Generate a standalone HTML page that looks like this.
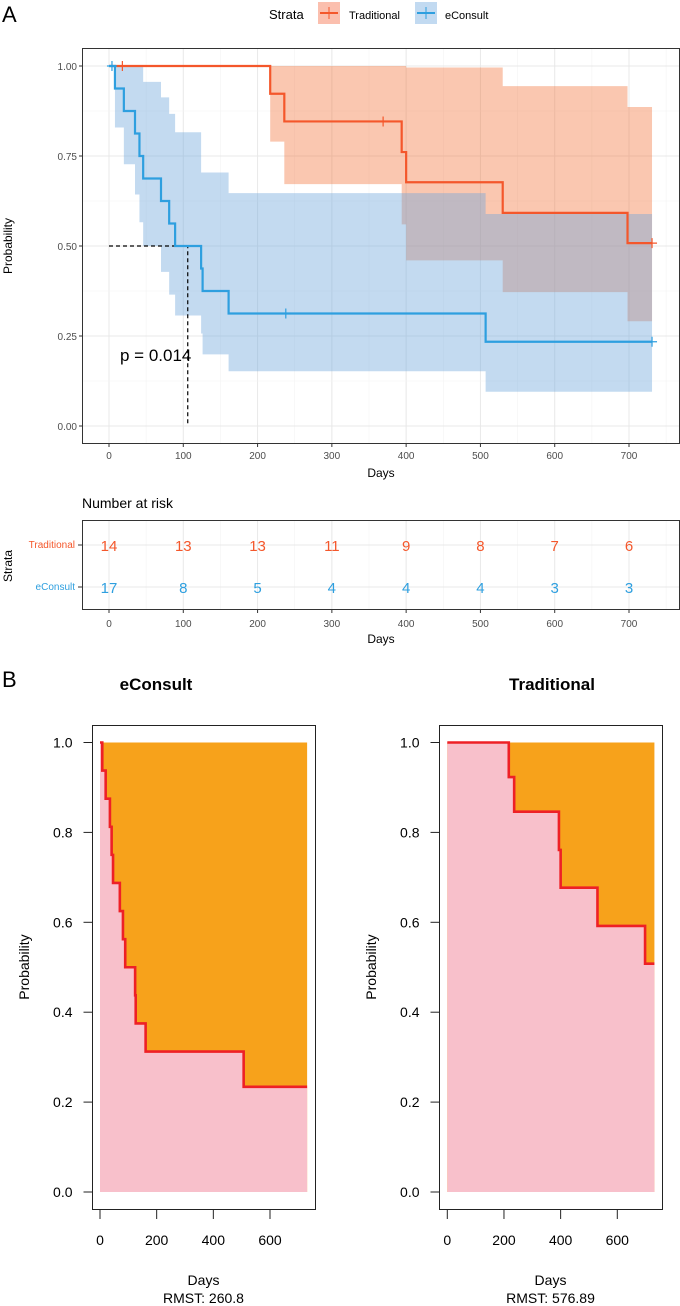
<!DOCTYPE html>
<html><head><meta charset="utf-8"><style>
body{margin:0;background:#fff;}
svg{display:block;font-family:"Liberation Sans",sans-serif;}
</style></head><body>
<svg id="chart" width="680" height="1306" viewBox="0 0 680 1306"></svg>
<script>
// ---- Data ----
const econTimes = [0, 8, 20, 35, 41, 46, 70, 81, 89, 124, 126, 161, 507];
const econSurv  = [1, 0.9375, 0.875, 0.8125, 0.75, 0.6875, 0.625, 0.5625, 0.5, 0.4375, 0.375, 0.3125, 0.234];
const econUpper = [1, 1, 1, 1, 1, 0.956, 0.913, 0.867, 0.816, 0.704, 0.704, 0.647, 0.589];
const econLower = [1, 0.829, 0.727, 0.643, 0.566, 0.5, 0.428, 0.365, 0.307, 0.257, 0.199, 0.152, 0.095];
const econCensor = [4, 238, 731];
const tradTimes = [0, 217, 236, 394, 400, 530, 698];
const tradSurv  = [1, 0.923, 0.846, 0.761, 0.677, 0.592, 0.508];
const tradUpper = [1, 1, 1, 1, 0.996, 0.944, 0.886];
const tradLower = [1, 0.79, 0.672, 0.56, 0.46, 0.372, 0.291];
const tradCensor = [18, 369, 731];
const maxDay = 731;
const medianDay = 106;
const riskTimes = [0, 100, 200, 300, 400, 500, 600, 700];
const riskTrad = [14, 13, 13, 11, 9, 8, 7, 6];
const riskEcon = [17, 8, 5, 4, 4, 4, 3, 3];
const yTicksA = [0, 0.25, 0.5, 0.75, 1];
const yTickLabelsA = ["0.00", "0.25", "0.50", "0.75", "1.00"];
const xTicksA = [0, 100, 200, 300, 400, 500, 600, 700];
const xTicksB = [0, 200, 400, 600];
const yTicksB = [0, 0.2, 0.4, 0.6, 0.8, 1.0];
const rmstEcon = "260.8";
const rmstTrad = "576.89";

const svg = document.getElementById('chart');
const NS = 'http://www.w3.org/2000/svg';
function mk(tag, attrs, parent, text) {
  const e = document.createElementNS(NS, tag);
  for (const k in attrs) e.setAttribute(k, attrs[k]);
  if (text !== undefined) e.textContent = text;
  (parent || svg).appendChild(e);
  return e;
}
const ORANGE = '#F4572B', BLUE = '#2E9FDF';

// ---- Panel A scales ----
const ax = d => 109 + d * 520 / 700;
const ay = p => 426 - p * 360;

let e;
e = mk('text', {x: 2, y: 22, 'font-size': 22}, svg, 'A');
 

// legend
const lg = mk('g', {});
 
mk('text', {x: 269, y: 19, 'font-size': 13}, lg, 'Strata');
e = mk('g', {}, lg);
 
mk('rect', {x: 318, y: 2, width: 22, height: 22, fill: ORANGE, 'fill-opacity': 0.38}, e);
mk('line', {x1: 320, y1: 13, x2: 338, y2: 13, stroke: ORANGE, 'stroke-width': 2}, e);
mk('line', {x1: 329, y1: 7, x2: 329, y2: 19, stroke: ORANGE, 'stroke-width': 1}, e);
mk('text', {x: 349, y: 19, 'font-size': 11}, e, 'Traditional');
e = mk('g', {}, lg);
 
mk('rect', {x: 415, y: 2, width: 22, height: 22, fill: '#78ADE0', 'fill-opacity': 0.45}, e);
mk('line', {x1: 417, y1: 13, x2: 435, y2: 13, stroke: BLUE, 'stroke-width': 2}, e);
mk('line', {x1: 426, y1: 7, x2: 426, y2: 19, stroke: BLUE, 'stroke-width': 1}, e);
mk('text', {x: 445, y: 19, 'font-size': 11}, e, 'eConsult');

// grid
const gA = mk('g', {});
 
for (let d = -50; d <= 750; d += 50) {
  const x = ax(d); if (x < 83 || x > 679) continue;
  mk('line', {x1: x, y1: 49, x2: x, y2: 443, stroke: d % 100 === 0 ? '#E8E8E8' : '#F3F3F3', 'stroke-width': d % 100 === 0 ? 1 : 0.6}, gA);
}
for (let p = -0.125; p <= 1.126; p += 0.125) {
  const y = ay(p); if (y < 49 || y > 443) continue;
  const major = Math.abs(p * 4 - Math.round(p * 4)) < 1e-6;
  mk('line', {x1: 83, y1: y, x2: 679, y2: y, stroke: major ? '#E8E8E8' : '#F3F3F3', 'stroke-width': major ? 1 : 0.6}, gA);
}

function bandPath(times, up, lo) {
  let top = '', bot = [];
  for (let i = 0; i < times.length; i++) {
    const t0 = times[i], t1 = i + 1 < times.length ? times[i + 1] : maxDay;
    top += (i === 0 ? 'M' : 'L') + ax(t0) + ',' + ay(up[i]) + ' L' + ax(t1) + ',' + ay(up[i]) + ' ';
    bot.push(ax(t0) + ',' + ay(lo[i]), ax(t1) + ',' + ay(lo[i]));
  }
  return top + 'L' + bot.reverse().join(' L') + ' Z';
}
function stepPath(times, s, sx, sy) {
  let d = 'M' + sx(times[0]) + ',' + sy(s[0]);
  for (let i = 1; i < times.length; i++) d += ' L' + sx(times[i]) + ',' + sy(s[i - 1]) + ' L' + sx(times[i]) + ',' + sy(s[i]);
  d += ' L' + sx(maxDay) + ',' + sy(s[s.length - 1]);
  return d;
}
function survAt(times, s, t) { let v = s[0]; for (let i = 0; i < times.length; i++) if (times[i] <= t) v = s[i]; return v; }

e = mk('path', {d: bandPath(tradTimes, tradUpper, tradLower), fill: '#F26B30', 'fill-opacity': 0.38});
 
e = mk('path', {d: bandPath(econTimes, econUpper, econLower), fill: '#6FA6DC', 'fill-opacity': 0.42});
 

// median lines
e = mk('path', {d: 'M' + ax(0) + ',' + ay(0.5) + ' L' + ax(medianDay) + ',' + ay(0.5) + ' L' + ax(medianDay) + ',' + ay(0), fill: 'none', stroke: '#000', 'stroke-width': 1.2, 'stroke-dasharray': '4,3'});
 

e = mk('path', {d: stepPath(tradTimes, tradSurv, ax, ay), fill: 'none', stroke: ORANGE, 'stroke-width': 2.2});
 
e = mk('path', {d: stepPath(econTimes, econSurv, ax, ay), fill: 'none', stroke: BLUE, 'stroke-width': 2.2});
 

function censor(times, s, list, col, name) {
  list.forEach(t => {
    const x = ax(t), y = ay(survAt(times, s, t));
    const g = mk('path', {d: `M${x - 5},${y} L${x + 5},${y} M${x},${y - 5} L${x},${y + 5}`, stroke: col, 'stroke-width': 1.2});
     
  });
}
censor(tradTimes, tradSurv, tradCensor, ORANGE, 'traditional-censor-mark');
censor(econTimes, econSurv, econCensor, BLUE, 'econsult-censor-mark');

e = mk('text', {x: 120, y: 361, 'font-size': 17}, svg, 'p = 0.014');
 

e = mk('rect', {x: 82.5, y: 48.5, width: 597, height: 395, fill: 'none', stroke: '#333', 'stroke-width': 1});
 

const yaxA = mk('g', {});
 
yTicksA.forEach((p, i) => {
  mk('line', {x1: 79, y1: ay(p), x2: 82, y2: ay(p), stroke: '#333'}, yaxA);
  mk('text', {x: 77, y: ay(p) + 4, 'font-size': 10, 'text-anchor': 'end', fill: '#4d4d4d'}, yaxA, yTickLabelsA[i]);
});
const xaxA = mk('g', {});
 
xTicksA.forEach(d => {
  mk('line', {x1: ax(d), y1: 444, x2: ax(d), y2: 447, stroke: '#333'}, xaxA);
  mk('text', {x: ax(d), y: 459, 'font-size': 10, 'text-anchor': 'middle', fill: '#4d4d4d'}, xaxA, d);
});
e = mk('text', {x: 381, y: 477, 'font-size': 12, 'text-anchor': 'middle'}, svg, 'Days');
 
e = mk('text', {x: 0, y: 0, 'font-size': 12, 'text-anchor': 'middle', transform: 'translate(12,246) rotate(-90)'}, svg, 'Probability');
 

// ---- Risk table ----
e = mk('text', {x: 82, y: 508, 'font-size': 14}, svg, 'Number at risk');
 
const rt = mk('g', {});
 
for (let d = -50; d <= 750; d += 50) {
  const x = ax(d); if (x < 83 || x > 679) continue;
  mk('line', {x1: x, y1: 521, x2: x, y2: 609, stroke: d % 100 === 0 ? '#E8E8E8' : '#F3F3F3', 'stroke-width': d % 100 === 0 ? 1 : 0.6}, rt);
}
mk('line', {x1: 83, y1: 545, x2: 679, y2: 545, stroke: '#E8E8E8'}, rt);
mk('line', {x1: 83, y1: 587, x2: 679, y2: 587, stroke: '#E8E8E8'}, rt);
mk('rect', {x: 82.5, y: 520.5, width: 597, height: 89, fill: 'none', stroke: '#333'}, rt);
riskTimes.forEach((d, i) => {
  mk('text', {x: ax(d), y: 551, 'font-size': 15, 'text-anchor': 'middle', fill: ORANGE}, rt, riskTrad[i]);
  mk('text', {x: ax(d), y: 593, 'font-size': 15, 'text-anchor': 'middle', fill: BLUE}, rt, riskEcon[i]);
  mk('line', {x1: ax(d), y1: 610, x2: ax(d), y2: 613, stroke: '#333'}, rt);
  mk('text', {x: ax(d), y: 627, 'font-size': 10, 'text-anchor': 'middle', fill: '#4d4d4d'}, rt, d);
});
mk('text', {x: 75, y: 548, 'font-size': 10, 'text-anchor': 'end', fill: ORANGE}, rt, 'Traditional');
mk('text', {x: 75, y: 590, 'font-size': 10, 'text-anchor': 'end', fill: BLUE}, rt, 'eConsult');
mk('line', {x1: 78, y1: 545, x2: 82, y2: 545, stroke: '#333'}, rt);
mk('line', {x1: 78, y1: 587, x2: 82, y2: 587, stroke: '#333'}, rt);
mk('text', {x: 0, y: 0, 'font-size': 12, 'text-anchor': 'middle', transform: 'translate(12,566) rotate(-90)'}, rt, 'Strata');
mk('text', {x: 381, y: 643, 'font-size': 12, 'text-anchor': 'middle'}, rt, 'Days');

// ---- Panel B ----
e = mk('text', {x: 2, y: 687, 'font-size': 22}, svg, 'B');
 
const by = p => 1192 - p * 449.5;
function panelB(name, title, titleX, boxL, x0, times, s, rmst, labX) {
  const g = mk('g', {});
   
  const bx = d => x0 + d * 170 / 600;
  mk('text', {x: titleX, y: 690, 'font-size': 17, 'font-weight': 'bold', 'text-anchor': 'middle'}, g, title);
  mk('rect', {x: bx(0), y: by(1), width: bx(maxDay) - bx(0), height: by(0) - by(1), fill: '#F7A21B'}, g);
  let d = 'M' + bx(0) + ',' + by(0) + ' L' + stepPath(times, s, bx, by).slice(1) + ' L' + bx(maxDay) + ',' + by(0) + ' Z';
  mk('path', {d: d, fill: '#F8C0CB'}, g);
  const line = mk('path', {d: stepPath(times, s, bx, by), fill: 'none', stroke: '#EE2026', 'stroke-width': 2.6}, g);
   
  mk('rect', {x: boxL, y: 725.5, width: 223, height: 484, fill: 'none', stroke: '#222', 'stroke-width': 1}, g);
  yTicksB.forEach(p => {
    mk('line', {x1: boxL - 9, y1: by(p), x2: boxL, y2: by(p), stroke: '#222'}, g);
    mk('text', {x: boxL - 20, y: by(p) + 5, 'font-size': 14, 'text-anchor': 'end'}, g, p.toFixed(1));
  });
  xTicksB.forEach(t => {
    mk('line', {x1: bx(t), y1: 1210, x2: bx(t), y2: 1219, stroke: '#222'}, g);
    mk('text', {x: bx(t), y: 1245, 'font-size': 14, 'text-anchor': 'middle'}, g, t);
  });
  mk('text', {x: 0, y: 0, 'font-size': 14, 'text-anchor': 'middle', transform: `translate(${labX},967) rotate(-90)`}, g, 'Probability');
  mk('text', {x: boxL + 111, y: 1285, 'font-size': 14, 'text-anchor': 'middle'}, g, 'Days');
  mk('text', {x: boxL + 111, y: 1303, 'font-size': 14, 'text-anchor': 'middle'}, g, 'RMST: ' + rmst);
}
panelB('econsult-rmst-plot', 'eConsult', 156, 92.5, 100, econTimes, econSurv, rmstEcon, 29);
panelB('traditional-rmst-plot', 'Traditional', 552, 439.5, 447.3, tradTimes, tradSurv, rmstTrad, 376);
</script>
</body></html>
